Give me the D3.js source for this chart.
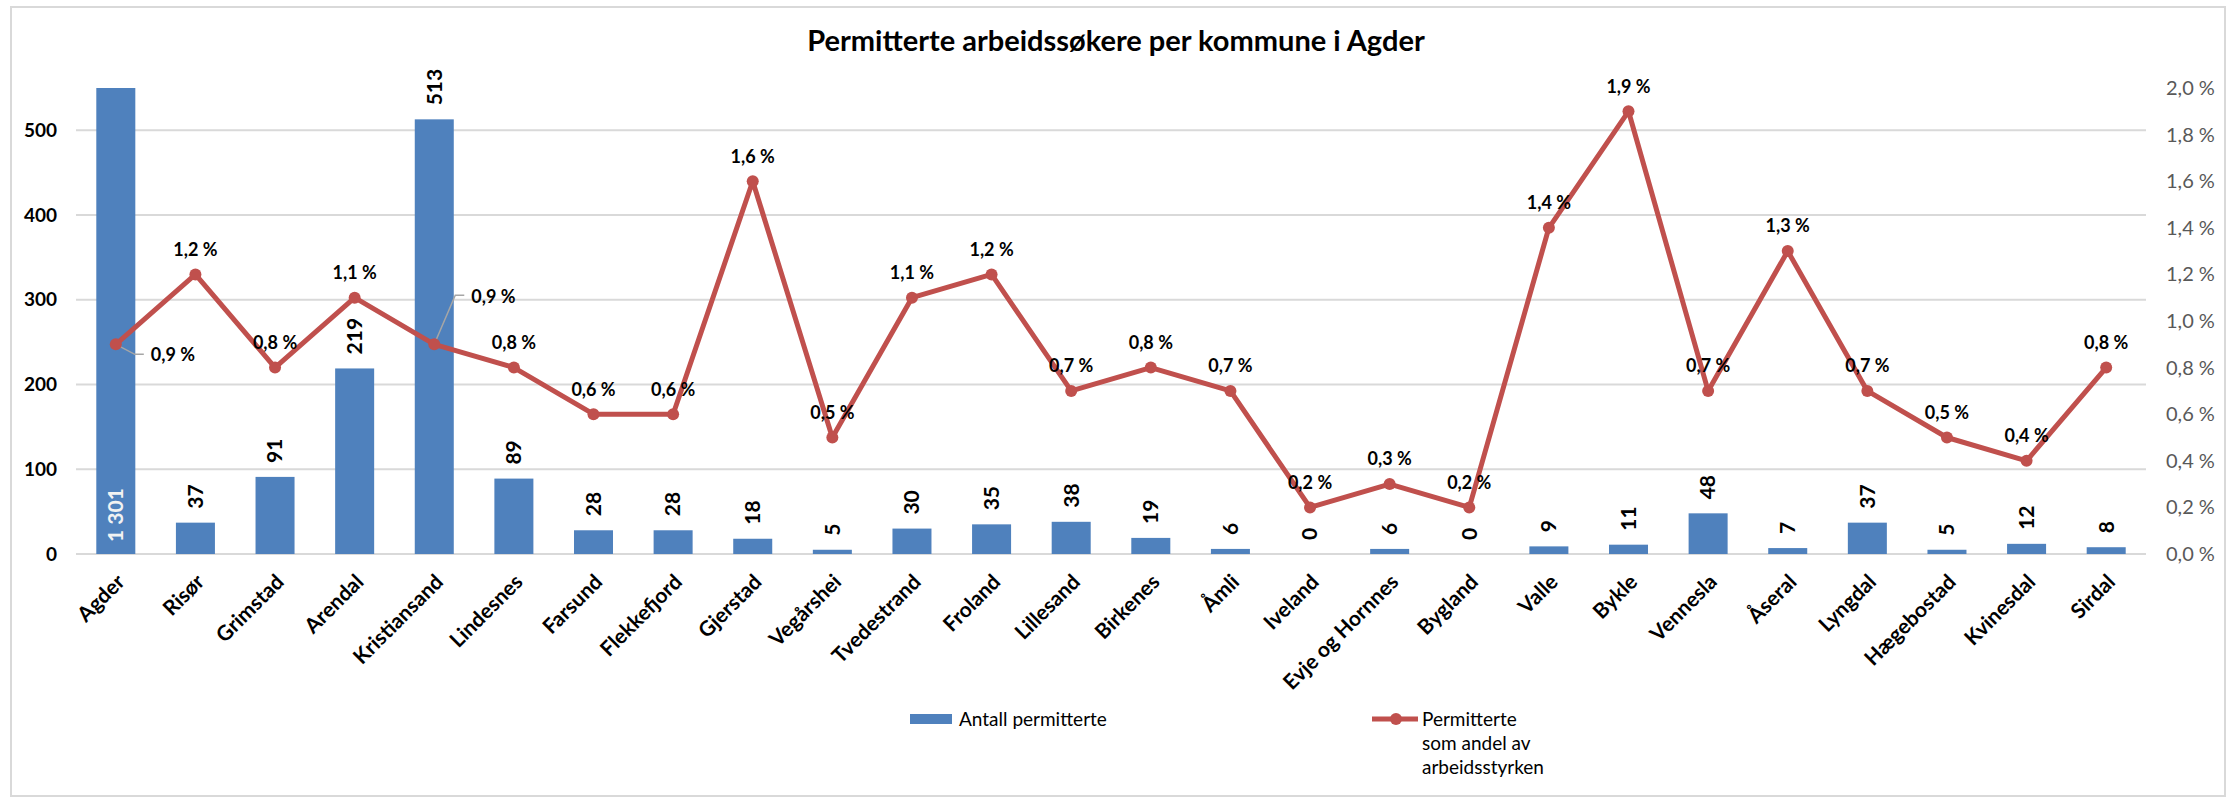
<!DOCTYPE html>
<html>
<head>
<meta charset="utf-8">
<script src="https://cdn.jsdelivr.net/npm/d3@7"></script>
<style>
  body { margin: 0; background: #fff; }
  svg text { font-family: Lato, "Liberation Sans", sans-serif; }
</style>
</head>
<body>
<script>
// data
const kommuner = ["Agder", "Risør", "Grimstad", "Arendal", "Kristiansand", "Lindesnes", "Farsund", "Flekkefjord",
  "Gjerstad", "Vegårshei", "Tvedestrand", "Froland", "Lillesand", "Birkenes", "Åmli", "Iveland",
  "Evje og Hornnes", "Bygland", "Valle", "Bykle", "Vennesla", "Åseral", "Lyngdal", "Hægebostad", "Kvinesdal", "Sirdal"]
const antall = [1301, 37, 91, 219, 513, 89, 28, 28, 18, 5, 30, 35, 38, 19, 6, 0, 6, 0, 9, 11, 48, 7, 37, 5, 12, 8]
const andel = [0.9, 1.2, 0.8, 1.1, 0.9, 0.8, 0.6, 0.6, 1.6, 0.5, 1.1, 1.2, 0.7, 0.8, 0.7, 0.2, 0.3, 0.2, 1.4, 1.9, 0.7, 1.3, 0.7, 0.5, 0.4, 0.8]
const leftTicks = [0, 100, 200, 300, 400, 500]
const rightTicks = [0, 0.2, 0.4, 0.6, 0.8, 1.0, 1.2, 1.4, 1.6, 1.8, 2.0]

const w = 2231
const h = 800
const plot = {left: 76, right: 2146, top: 88, bottom: 554}

const blue = "#4f81bd"
const red = "#c0504d"
const grid = "#d9d9d9"

const svg = d3.select("body").append("svg")
  .attr("width", w)
  .attr("height", h)

// outer border
svg.append("rect")
  .attr("x", 11).attr("y", 7)
  .attr("width", 2214).attr("height", 789)
  .attr("fill", "none").attr("stroke", grid).attr("stroke-width", 2)

svg.append("text")
  .attr("x", 1116).attr("y", 51)
  .attr("text-anchor", "middle")
  .style("font-size", "29px").style("font-weight", "bold")
  .text("Permitterte arbeidssøkere per kommune i Agder")

// scales
const xScale = d3.scaleBand().domain(kommuner).range([plot.left, plot.right]).paddingInner(0.51).paddingOuter(0.255)
const yLeft = d3.scaleLinear().domain([0, 550]).range([plot.bottom, plot.top])
const yRight = d3.scaleLinear().domain([0, 2]).range([plot.bottom, plot.top])
const cx = d => xScale(d) + xScale.bandwidth() / 2
const fmtPct = v => v.toFixed(1).replace(".", ",") + " %"

// gridlines
svg.append("g").selectAll("line")
  .data(leftTicks)
  .enter().append("line")
  .attr("x1", plot.left).attr("x2", plot.right)
  .attr("y1", d => yLeft(d)).attr("y2", d => yLeft(d))
  .attr("stroke", grid).attr("stroke-width", 2)

// axes
const leftAxis = svg.append("g")
  .attr("transform", "translate(" + plot.left + ",0)")
  .call(d3.axisLeft(yLeft).tickValues(leftTicks).tickSize(0).tickPadding(19))
leftAxis.select(".domain").remove()
leftAxis.selectAll("text").style("font-size", "19px").style("font-weight", "bold").attr("fill", "#000")

const rightAxis = svg.append("g")
  .attr("transform", "translate(" + plot.right + ",0)")
  .call(d3.axisRight(yRight).tickValues(rightTicks).tickSize(0).tickPadding(20).tickFormat(fmtPct))
rightAxis.select(".domain").remove()
rightAxis.selectAll("text").style("font-size", "20px").attr("fill", "#595959")

// bars
svg.append("g").selectAll("rect")
  .data(kommuner)
  .enter().append("rect")
  .attr("x", d => xScale(d))
  .attr("width", xScale.bandwidth())
  .attr("y", (d, i) => yLeft(Math.min(antall[i], 550)))
  .attr("height", (d, i) => plot.bottom - yLeft(Math.min(antall[i], 550)))
  .attr("fill", blue)

// bar labels (rotated)
svg.append("g").selectAll("text")
  .data(kommuner)
  .enter().append("text")
  .attr("transform", (d, i) => {
    const inside = antall[i] > 550
    const y = inside ? plot.bottom - 12 : yLeft(antall[i]) - 14
    return "translate(" + cx(d) + "," + y + ") rotate(-90)"
  })
  .attr("dy", "0.35em")
  .style("font-size", "21px").style("font-weight", "bold")
  .attr("fill", (d, i) => antall[i] > 550 ? "#f2f2f2" : "#000")
  .text((d, i) => d3.format(",")(antall[i]).replace(/,/g, " "))

// line
const line = d3.line()
  .x(d => cx(d))
  .y((d, i) => yRight(andel[i]))
svg.append("path")
  .datum(kommuner)
  .attr("d", line)
  .attr("fill", "none")
  .attr("stroke", red).attr("stroke-width", 5)
  .attr("stroke-linejoin", "round")

// callouts for labels moved away from the point
const callouts = {
  "Agder": {dx: 35, dy: 10, path: [[19, 10], [28, 10]]},
  "Kristiansand": {dx: 37, dy: -48, path: [[21, -49], [30, -49]]}
}

svg.append("g").selectAll("path")
  .data(Object.keys(callouts))
  .enter().append("path")
  .attr("d", d => {
    const i = kommuner.indexOf(d)
    const x0 = cx(d), y0 = yRight(andel[i])
    return "M" + x0 + "," + y0 + callouts[d].path.map(p => "L" + (x0 + p[0]) + "," + (y0 + p[1])).join("")
  })
  .attr("fill", "none").attr("stroke", "#a6a6a6").attr("stroke-width", 1.5)

svg.append("g").selectAll("circle")
  .data(kommuner)
  .enter().append("circle")
  .attr("cx", d => cx(d))
  .attr("cy", (d, i) => yRight(andel[i]))
  .attr("r", 6)
  .attr("fill", red)

// percent labels
svg.append("g").selectAll("text")
  .data(kommuner)
  .enter().append("text")
  .attr("x", d => callouts[d] ? cx(d) + callouts[d].dx : cx(d))
  .attr("y", (d, i) => callouts[d] ? yRight(andel[i]) + callouts[d].dy : yRight(andel[i]) - 25)
  .attr("dy", "0.35em")
  .attr("text-anchor", d => callouts[d] ? "start" : "middle")
  .style("font-size", "18px").style("font-weight", "bold")
  .text((d, i) => fmtPct(andel[i]))

// x labels
svg.append("g").selectAll("text")
  .data(kommuner)
  .enter().append("text")
  .attr("transform", d => "translate(" + (cx(d) + 5) + "," + (plot.bottom + 24) + ") rotate(-45)")
  .attr("text-anchor", "end")
  .attr("dy", "0.35em")
  .style("font-size", "21px").style("font-weight", "bold")
  .text(d => d)

// legend
const legend = svg.append("g")
legend.append("rect")
  .attr("x", 910).attr("y", 714).attr("width", 42).attr("height", 10)
  .attr("fill", blue)
legend.append("text")
  .attr("x", 959).attr("y", 719).attr("dy", "0.35em")
  .style("font-size", "19px")
  .text("Antall permitterte")

legend.append("line")
  .attr("x1", 1372).attr("x2", 1418).attr("y1", 719).attr("y2", 719)
  .attr("stroke", red).attr("stroke-width", 5)
legend.append("circle")
  .attr("cx", 1396).attr("cy", 719).attr("r", 6).attr("fill", red)
legend.selectAll(".leg2")
  .data(["Permitterte", "som andel av", "arbeidsstyrken"])
  .enter().append("text")
  .attr("x", 1422).attr("y", (d, i) => 719 + i * 24).attr("dy", "0.35em")
  .style("font-size", "19px")
  .text(d => d)
</script>
</body>
</html>
